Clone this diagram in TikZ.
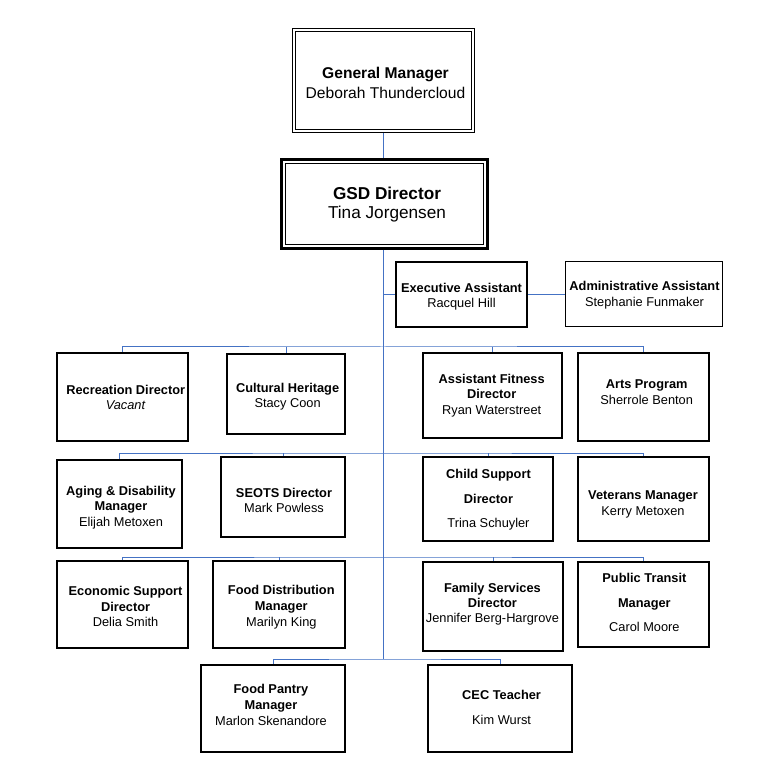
\documentclass[tikz,border=0pt]{standalone}
\usepackage{fontspec}
\setmainfont{Liberation Sans}
\definecolor{linkblue}{RGB}{68,114,196}
\begin{document}
\begin{tikzpicture}[x=1pt,y=-1pt,
  box/.style={draw=black, line width=2pt, inner sep=0pt, fill=white},
  thinbox/.style={draw=black, line width=1pt, inner sep=0pt, fill=white},
  conn/.style={draw=linkblue, line width=1pt},
  txt/.style={inner sep=0pt, align=center, font=\fontsize{12.8}{#1}\selectfont},
  txt/.default=15.5]
\fill[white] (0,0) rectangle (782,767);
\useasboundingbox (0,0) rectangle (782,767);

% top boxes
\node[draw=black, double, double distance=1.8pt, line width=0.9pt, inner sep=0pt, outer sep=1.8pt,
      minimum width=179.4pt, minimum height=101.4pt] (gm) at (383.5,80.5) {};
\node[txt, font=\fontsize{15.6}{19.7}\selectfont] (gm-t) at (385.5,84.5) {\strut\textbf{General Manager}\\Deborah Thundercloud\strut};

\node[draw=black, line width=3.2pt, inner sep=0pt, minimum width=205.8pt, minimum height=88.8pt] (gsd) at (384.5,204) {};
\draw[line width=1pt] ([shift={(5.2pt,-5.2pt)}]gsd.north west) rectangle ([shift={(-5.2pt,5.2pt)}]gsd.south east);
\node[txt, font=\fontsize{17.2}{19.7}\selectfont] (gsd-t) at (387,205.2) {\strut\textbf{GSD Director}\\Tina Jorgensen\strut};

\node[box, minimum width=131pt, minimum height=65pt] (exec) at (461.5,294.5) {};
\node[txt=15] (exec-t) at (461.5,296.8) {\strut\textbf{Executive Assistant}\\Racquel Hill\strut};
\node[thinbox, minimum width=157pt, minimum height=65pt] (admin) at (643.5,294.5) {};
\node[txt=15.7] (admin-t) at (644.5,295.4) {\strut\textbf{Administrative Assistant}\\Stephanie Funmaker\strut};

% row 1
\node[box, minimum width=131pt, minimum height=88pt] (rec) at (122.5,397) {};
\node[txt=16] (rec-t) at (125.7,398.8) {\strut\textbf{Recreation Director}\\\textit{Vacant}\strut};
\node[box, minimum width=118pt, minimum height=80pt] (cul) at (286,394) {};
\node[txt=15] (cul-t) at (287.6,396.8) {\strut\textbf{Cultural Heritage}\\Stacy Coon\strut};
\node[box, minimum width=139pt, minimum height=85pt] (fit) at (492.5,395.5) {};
\node[txt=15.2] (fit-t) at (491.7,395.8) {\strut\textbf{Assistant Fitness}\\\textbf{Director}\\Ryan Waterstreet\strut};
\node[box, minimum width=131pt, minimum height=88pt] (arts) at (643.5,397) {};
\node[txt=15.7] (arts-t) at (646.7,393.7) {\strut\textbf{Arts Program}\\Sherrole Benton\strut};

% row 2
\node[box, minimum width=125pt, minimum height=88pt] (aging) at (119.5,504) {};
\node[txt=15.5] (aging-t) at (121,507.7) {\strut\textbf{Aging \& Disability}\\\textbf{Manager}\\Elijah Metoxen\strut};
\node[box, minimum width=124pt, minimum height=80pt] (seots) at (283,497) {};
\node[txt=15.6] (seots-t) at (284,502) {\strut\textbf{SEOTS Director}\\Mark Powless\strut};
\node[box, minimum width=130pt, minimum height=84pt] (child) at (488,499) {};
\node[txt=24.2] (child-t) at (488.5,498.3) {\strut\textbf{Child Support}\\\textbf{Director}\\Trina Schuyler\strut};
\node[box, minimum width=131pt, minimum height=84pt] (vet) at (643.5,499) {};
\node[txt=15.7] (vet-t) at (643,504.4) {\strut\textbf{Veterans Manager}\\Kerry Metoxen\strut};

% row 3
\node[box, minimum width=131pt, minimum height=87pt] (econ) at (122.5,604.5) {};
\node[txt=15.65] (econ-t) at (125.6,608.2) {\strut\textbf{Economic Support}\\\textbf{Director}\\Delia Smith\strut};
\node[box, minimum width=132pt, minimum height=87pt] (food) at (279,604.5) {};
\node[txt=15.85] (food-t) at (281.3,607.3) {\strut\textbf{Food Distribution}\\\textbf{Manager}\\Marilyn King\strut};
\node[box, minimum width=140pt, minimum height=89pt] (fam) at (493,606.5) {};
\node[txt=15.3] (fam-t) at (492.4,604.5) {\strut\textbf{Family Services}\\\textbf{Director}\\Jennifer Berg-Hargrove\strut};
\node[box, minimum width=131pt, minimum height=85pt] (pt) at (643.5,604.5) {};
\node[txt=24.8] (pt-t) at (644.4,602.1) {\strut\textbf{Public Transit}\\\textbf{Manager}\\Carol Moore\strut};

% row 4
\node[box, minimum width=144pt, minimum height=87pt] (pantry) at (273,708.5) {};
\node[txt=15.7] (pantry-t) at (271,706.5) {\strut\textbf{Food Pantry}\\\textbf{Manager}\\Marlon Skenandore\strut};
\node[box, minimum width=144pt, minimum height=87pt] (cec) at (500,708.5) {};
\node[txt=25] (cec-t) at (501.6,707.1) {\strut\textbf{CEC Teacher}\\Kim Wurst\strut};

% junctions on the trunk
\coordinate (j1) at (383,347);
\coordinate (j2) at (383,453);
\coordinate (j3) at (383,557);
\coordinate (j4) at (383,659);

% connectors
\draw[conn] (gm.south -| j1) -- (gsd.north -| j1);
\draw[conn] (gsd.south -| j1) -- (j4);
\draw[conn] (exec.west -| j1) -- (exec.west);
\draw[conn] (exec.east) -- (admin.west);

\draw[conn] (rec.north) |- (j1) -| (arts.north);
\draw[conn] (cul.north) -- (cul.north |- j1);
\draw[conn] (fit.north) -- (fit.north |- j1);

\draw[conn] (aging.north) |- (j2) -| (vet.north);
\draw[conn] (seots.north) -- (seots.north |- j2);
\draw[conn] (child.north) -- (child.north |- j2);

\draw[conn] (econ.north) |- (j3) -| (pt.north);
\draw[conn] (food.north) -- (food.north |- j3);
\draw[conn] (fam.north) -- (fam.north |- j3);

\draw[conn] (pantry.north) |- (j4) -| (cec.north);
\end{tikzpicture}
\end{document}
